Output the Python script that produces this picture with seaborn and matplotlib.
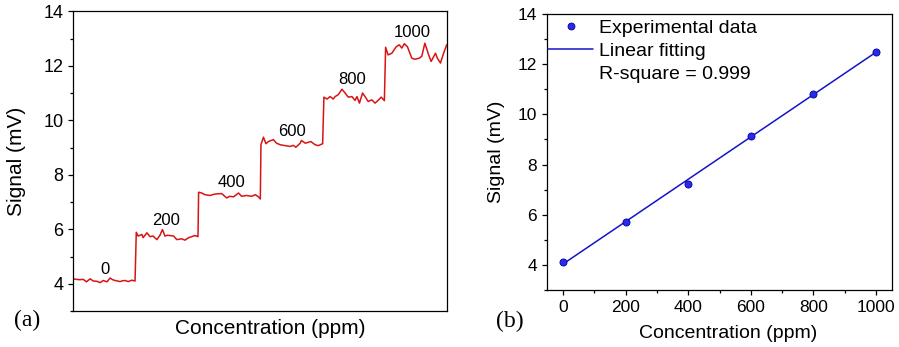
import numpy as np
import pandas as pd
import matplotlib
matplotlib.use("Agg")
import matplotlib.pyplot as plt
from matplotlib.ticker import MultipleLocator
from matplotlib.lines import Line2D
import seaborn as sns

# ---------------- data ----------------
# (a) real-time response trace: time (arb. units) and signal (mV) per concentration step
t_0 = [1, 6, 11, 17, 22, 28, 33, 39, 44, 49, 55, 60, 64, 68, 72, 76, 80, 84, 89, 95, 100]
v_0 = [4.18, 4.16, 4.15, 4.16, 4.07, 4.18, 4.10, 4.09, 4.04, 4.12, 4.07, 4.21, 4.15, 4.12, 4.10, 4.08, 4.11, 4.12, 4.08, 4.13, 4.10]
t_200 = [102, 105, 111, 113, 119, 124, 129, 135, 140, 144, 148, 152, 156, 162, 167, 175, 180, 186, 191, 196, 201]
v_200 = [5.89, 5.75, 5.81, 5.69, 5.87, 5.73, 5.75, 5.62, 5.78, 5.99, 5.75, 5.78, 5.77, 5.75, 5.62, 5.65, 5.60, 5.69, 5.73, 5.77, 5.73]
t_400 = [202, 207, 212, 220, 226, 231, 239, 247, 252, 258, 266, 271, 279, 287, 293, 298, 301]
v_400 = [7.36, 7.33, 7.27, 7.24, 7.28, 7.30, 7.31, 7.15, 7.21, 7.19, 7.33, 7.21, 7.24, 7.21, 7.27, 7.19, 7.11]
t_600 = [302, 306, 310, 314, 322, 327, 333, 341, 349, 354, 358, 365, 367, 373, 378, 382, 389, 394, 401]
v_600 = [9.10, 9.38, 9.14, 9.22, 9.29, 9.16, 9.10, 9.07, 9.04, 9.08, 9.01, 9.16, 9.26, 9.16, 9.19, 9.22, 9.10, 9.07, 9.14]
t_800 = [403, 408, 413, 418, 421, 426, 432, 437, 442, 448, 453, 456, 460, 465, 469, 474, 480, 485, 490, 495, 500]
v_800 = [10.85, 10.78, 10.87, 10.78, 10.87, 10.94, 11.14, 11.00, 10.85, 10.87, 10.73, 10.87, 10.63, 11.00, 10.87, 10.69, 10.75, 10.63, 10.73, 10.85, 10.72]
t_1000 = [502, 506, 512, 519, 524, 528, 532, 537, 544, 549, 556, 560, 565, 571, 575, 582, 585, 590, 595, 600]
v_1000 = [12.68, 12.40, 12.46, 12.70, 12.77, 12.65, 12.81, 12.70, 12.28, 12.24, 12.28, 12.35, 12.83, 12.40, 12.16, 12.46, 12.28, 12.10, 12.46, 12.77]

step_labels = ["0", "200", "400", "600", "800", "1000"]
step_label_t = [52, 150, 254, 352, 448, 544]
step_label_v = [4.51, 6.34, 7.71, 9.60, 11.50, 13.23]

# (b) calibration
conc = [0, 200, 400, 600, 800, 1000]
signal = [4.11, 5.73, 7.24, 9.14, 10.83, 12.49]

# ---------------- style ----------------
sns.set_style("ticks")
plt.rcParams["font.family"] = ["Liberation Sans", "DejaVu Sans"]
plt.rcParams["axes.linewidth"] = 0.9
plt.rcParams["axes.edgecolor"] = "black"
plt.rcParams["text.color"] = "black"
plt.rcParams["axes.labelcolor"] = "black"
plt.rcParams["xtick.color"] = "black"
plt.rcParams["ytick.color"] = "black"

RED = "#d81414"
BLUE = "#1414c8"

trace = pd.DataFrame({
    "t": t_0 + t_200 + t_400 + t_600 + t_800 + t_1000,
    "v": v_0 + v_200 + v_400 + v_600 + v_800 + v_1000,
})
calib = pd.DataFrame({"conc": conc, "signal": signal})

fig = plt.figure(figsize=(8.99, 3.47), dpi=100)
W, H = 899, 347

def add_axes_px(l, t, r, b):
    return fig.add_axes([l / W, 1 - b / H, (r - l) / W, (b - t) / H])

ax1 = add_axes_px(72.7, 11.3, 446.7, 311)
ax2 = add_axes_px(547.3, 14, 891.7, 290)

# ---- panel (a) ----
sns.lineplot(data=trace, x="t", y="v", ax=ax1, color=RED, lw=1.1, sort=False)
ax1.set_xlim(0, 600)
ax1.set_ylim(3, 14)
ax1.set_xticks([])
ax1.yaxis.set_major_locator(MultipleLocator(2))
ax1.yaxis.set_minor_locator(MultipleLocator(1))
ax1.tick_params(axis="y", which="major", direction="out", length=3.5, width=0.9, labelsize=13, pad=3)
ax1.tick_params(axis="y", which="minor", direction="out", length=2, width=0.9)
for lab, tt, vv in zip(step_labels, step_label_t, step_label_v):
    ax1.text(tt, vv, lab, ha="center", va="center", fontsize=12, color="black")
ax1.set_ylabel("Signal (mV)", fontsize=15)
ax1.yaxis.set_label_coords(-0.125, 0.5)
ax1.set_xlabel("Concentration (ppm)", fontsize=15)
ax1.xaxis.label.set_va("center")
ax1.xaxis.set_label_coords((270 - 72.7) / 374, (311 - 328) / 299.7)
for s in ax1.spines.values():
    s.set_visible(True)

# ---- panel (b) ----
sns.regplot(data=calib, x="conc", y="signal", ax=ax2, scatter=False, ci=None,
            truncate=True, line_kws=dict(color=BLUE, lw=1.1))
sns.scatterplot(data=calib, x="conc", y="signal", ax=ax2, color="#2a2ae8",
                edgecolor="#0000a0", linewidth=0.6, s=26, zorder=3)
ax2.set_xlim(-50, 1050)
ax2.set_ylim(3, 14)
ax2.xaxis.set_major_locator(MultipleLocator(200))
ax2.xaxis.set_minor_locator(MultipleLocator(100))
ax2.yaxis.set_major_locator(MultipleLocator(2))
ax2.yaxis.set_minor_locator(MultipleLocator(1))
ax2.tick_params(which="major", direction="out", length=3.5, width=0.9, labelsize=12.5, pad=4)
ax2.tick_params(which="minor", direction="out", length=2, width=0.9)
ax2.set_ylabel("Signal (mV)", fontsize=14)
ax2.yaxis.set_label_coords((505 - 547.3) / 344.4, 0.5)
ax2.set_xlabel("Concentration (ppm)", fontsize=14)
ax2.xaxis.label.set_va("center")
ax2.xaxis.set_label_coords((728.5 - 547.3) / 344.4, (290 - 333) / 276)
for s in ax2.spines.values():
    s.set_visible(True)

handles = [
    Line2D([], [], ls="none", marker="o", ms=5, color="#2a2ae8", mec="#0000a0", mew=0.6),
    Line2D([], [], color=BLUE, lw=1.1),
    Line2D([], [], ls="none", marker=None, color="none"),
]
ax2.legend(handles, ["Experimental data", "Linear fitting", "R-square = 0.999"],
           loc="upper left", bbox_to_anchor=(0, 0.985), frameon=False, fontsize=14,
           handlelength=2.3, handletextpad=0.3, borderpad=0, borderaxespad=0.05,
           labelspacing=0.28)

# panel letters
fig.text(27 / W, 1 - 320 / H, "(a)", ha="center", va="center", fontsize=17,
         family=["Liberation Serif", "DejaVu Serif"])
fig.text(510 / W, 1 - 321 / H, "(b)", ha="center", va="center", fontsize=17,
         family=["Liberation Serif", "DejaVu Serif"])

fig.savefig("out.png", dpi=100)
